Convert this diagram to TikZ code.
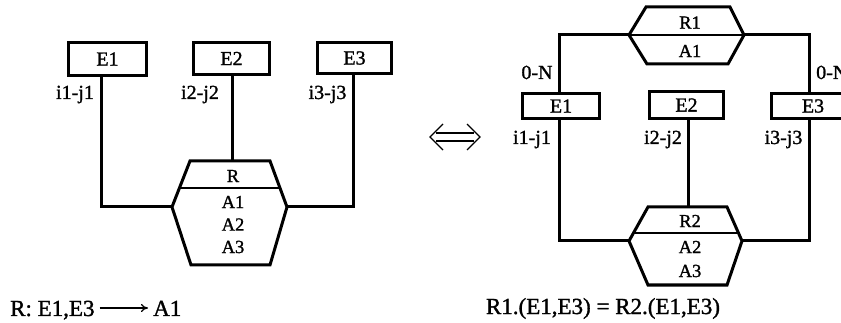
\documentclass[tikz,border=0pt]{standalone}
\usepackage{fontspec}
\setmainfont{Liberation Serif}[FakeBold=1.3]
\usetikzlibrary{arrows.meta,calc}
\begin{document}
\begin{tikzpicture}[x=1pt,y=-1pt,
  ent/.style={draw,line width=3pt,inner sep=0pt,font=\fontsize{20}{20}\selectfont},
  conn/.style={line width=3pt,line join=miter},
  hexa/.style={line width=3pt,line join=miter},
  divl/.style={line width=2pt},
  lbl/.style={font=\fontsize{20}{20}\selectfont,inner sep=0pt},
  att/.style={font=\fontsize{18.5}{18.5}\selectfont,inner sep=0pt},
  big/.style={font=\fontsize{23}{23}\selectfont,inner sep=0pt},
  thin/.style={line width=1.2pt,line join=miter}]
\useasboundingbox (0,0) rectangle (841,323);
\clip (0,0) rectangle (841,323);

% ---------------- left diagram ----------------
\node[ent,minimum width=78pt,minimum height=33pt] (E1) at (107.5,59) {E1};
\node[ent,minimum width=76pt,minimum height=32pt] (E2) at (231.5,58.5) {E2};
\node[ent,minimum width=74pt,minimum height=31pt] (E3) at (354.5,58) {E3};

\coordinate (hTL) at (190,161);
\coordinate (hTR) at (270,161);
\coordinate (hR)  at (287,207);
\coordinate (hBR) at (270,265);
\coordinate (hBL) at (191,265);
\coordinate (hL)  at (172,207);
\draw[hexa] (hTL) -- (hTR) -- (hR) -- (hBR) -- (hBL) -- (hL) -- cycle;
\draw[divl] ($(hTL)!0.587!(hL)$) -- ($(hTR)!0.587!(hR)$);

\node[att] (R)  at (233,176) {R};
\node[att] (A1) at (233,202) {A1};
\node[att] (A2) at (233,224.5) {A2};
\node[att] (A3) at (233,247) {A3};

\coordinate (x1) at (101,0);
\coordinate (x2) at (232,0);
\coordinate (x3) at (353,0);
\draw[conn] (E1.south -| x1) |- (hL);
\draw[conn] (E2.south -| x2) -- (x2 |- hTL);
\draw[conn] (E3.south -| x3) |- (hR);

\node[lbl,anchor=base] (l1) at (75,99) {i1-j1};
\node[lbl,anchor=base] (l2) at (200,99) {i2-j2};
\node[lbl,anchor=base] (l3) at (327.5,99) {i3-j3};

\node[big,anchor=base west] (lhs) at (10,316) {R: E1,E3};
\node[big,anchor=base west] (rhs) at (153,316) {A1};
\draw[line width=1.2pt,-{To[length=7pt,width=8pt]}] (lhs.base east) ++(5,-8) -- ($(rhs.base west)+(-5,-8)$);

% ---------------- equivalence arrow ----------------
\draw[thin] (443,124) -- (430,137) -- (443,150);
\draw[thin] (467,124) -- (480,137) -- (467,150);
\draw[thin] (436,133) -- (474,133);
\draw[thin] (436,141) -- (474,141);

% ---------------- right diagram ----------------
\node[ent,minimum width=77pt,minimum height=25pt] (F1) at (561,106) {E1};
\node[ent,minimum width=74pt,minimum height=27pt] (F2) at (686.5,105) {E2};
\node[ent,minimum width=83pt,minimum height=25pt] (F3) at (813,106) {E3};

\coordinate (pTL) at (646,7);
\coordinate (pTR) at (730,7);
\coordinate (pR)  at (744,35);
\coordinate (pBR) at (728,64);
\coordinate (pBL) at (647,64);
\coordinate (pL)  at (629,35);
\draw[hexa] (pTL) -- (pTR) -- (pR) -- (pBR) -- (pBL) -- (pL) -- cycle;
\draw[divl] (pL) -- (pR);
\node[att] (R1)  at (690,22.5) {R1};
\node[att] (B1)  at (690,51) {A1};

\coordinate (qTL) at (648,207);
\coordinate (qTR) at (727,207);
\coordinate (qR)  at (742,241);
\coordinate (qBR) at (727,285);
\coordinate (qBL) at (648,285);
\coordinate (qL)  at (629,241);
\draw[hexa] (qTL) -- (qTR) -- (qR) -- (qBR) -- (qBL) -- (qL) -- cycle;
\draw[divl] ($(qTL)!0.765!(qL)$) -- ($(qTR)!0.765!(qR)$);
\node[att] (R2)  at (690,221) {R2};
\node[att] (B2)  at (690,247) {A2};
\node[att] (B3)  at (690,271) {A3};

\coordinate (y1) at (559,0);
\coordinate (y2) at (688,0);
\coordinate (y3) at (809,0);
\draw[conn] (F1.north -| y1) |- (pL);
\draw[conn] (F3.north -| y3) |- (pR);
\draw[conn] (F1.south -| y1) |- (qL);
\draw[conn] (F2.south -| y2) -- (y2 |- qTL);
\draw[conn] (F3.south -| y3) |- (qR);

\node[lbl,anchor=base] (n1) at (537,79) {0-N};
\node[lbl,anchor=base west] (n3) at (816,79) {0-N};
\node[lbl,anchor=base] (m1) at (532,144) {i1-j1};
\node[lbl,anchor=base] (m2) at (663,144) {i2-j2};
\node[lbl,anchor=base] (m3) at (783.5,144) {i3-j3};

\node[big,anchor=base] (eqn) at (603,314) {R1.(E1,E3) = R2.(E1,E3)};
\end{tikzpicture}
\end{document}
